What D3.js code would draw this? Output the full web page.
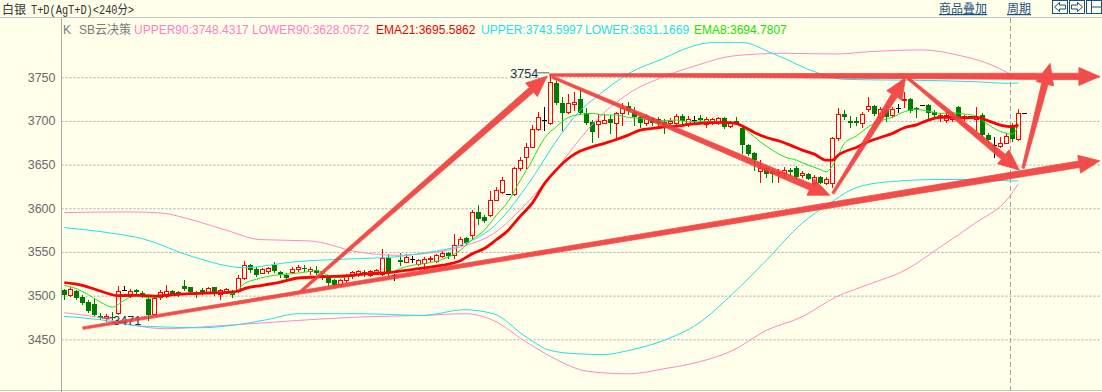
<!DOCTYPE html>
<html>
<head>
<meta charset="utf-8">
<script src="https://cdn.jsdelivr.net/npm/d3@7"></script>
<style>
  body { margin: 0; background: #ffffea; }
  svg { display: block; }
</style>
</head>
<body>
<script>
// candle data (240 min bars), index 0..159
const opens = [3506.4,3501,3504.9,3498.8,3492.7,3490.4,3476.2,3474.3,3476,3480.4,3506.5,3501,3506.4,3503,3495.7,3479.3,3498.4,3500,3505,3504,
  3511,3509.5,3504.1,3506,3503.4,3509.5,3502.2,3504.1,3504.9,3505.3,3520.2,3534.7,3530.9,3526.3,3527.8,3534.7,3527.1,3524,3527.1,3530.1,
  3532,3527.8,3529.8,3524,3520.6,3517.5,3513,3517.5,3522.1,3524,3527.1,3523.3,3525.2,3525.2,3543.5,3523.3,3541.2,3538.6,3541.6,3535.9,
  3537.8,3542,3539.7,3545.1,3549.3,3546.2,3558.5,3566.1,3569.2,3595.2,3590.2,3592.8,3610,3618.8,3616,3616,3645.6,3658.2,3670.4,3690.3,
  3701,3698,3743.8,3720.1,3710.6,3719.4,3724.7,3708.7,3699.1,3696,3698,3701.8,3697.2,3708.7,3717,3710.6,3704.8,3697.2,3703,3701.8,
  3699.1,3697.2,3698,3705.6,3696,3701.5,3703,3696,3699,3699,3703,3694.5,3700,3691.5,3672.4,3663.6,3643,3645.6,3643,3640,
  3639.9,3644,3646.7,3638,3639,3629,3636,3629,3628.4,3680,3708,3700,3699.5,3698,3713.2,3717,3704,3712.5,3706.8,3714.4,
  3723.5,3724.7,3715,3717.8,3717.8,3710.6,3705,3701,3702,3715.5,3703,3706,3701.8,3706.8,3683.8,3672,3671.2,3675,3695.3,3678.9];
const highs = [3508,3509.5,3506,3501,3494.6,3496.5,3479.7,3479,3481,3511,3510.5,3508,3508,3505,3498.4,3501,3506,3511.8,3506.8,3505.5,
  3518.3,3510.3,3505,3508.6,3510.3,3510.3,3508,3509,3506.4,3523.3,3539.7,3536.6,3532.8,3531.7,3533.2,3538.5,3528.6,3525.6,3533.2,3534.7,
  3534.7,3532.4,3533.6,3526,3521.5,3518.5,3519.5,3524.4,3528.2,3529,3529,3529,3531,3553.9,3548.1,3524.5,3548.9,3548.1,3545,3542.4,
  3544,3545.5,3548.1,3551,3550,3570.3,3567.2,3567.2,3597.8,3603.6,3592,3620,3624.5,3636,3616,3647.5,3659,3674.2,3695.3,3710.6,
  3715.5,3754,3746,3727.7,3730.5,3733.5,3736.2,3714.4,3701,3707.5,3707.5,3706.8,3710.6,3720.1,3722,3716.3,3706,3708,3705,3705,
  3702,3703,3708,3708,3706,3706,3707,3704,3703.5,3705,3705,3700,3705,3693.4,3674,3665,3655,3647.5,3644.4,3645,
  3647,3646.5,3648.2,3643,3640.5,3638,3637,3636,3682,3714.4,3713,3705.6,3705,3710.6,3727.8,3718.2,3716,3718,3716.2,3719,
  3733.5,3726,3716,3717.8,3719.4,3712.5,3709,3708.7,3708,3717,3707,3706,3715.5,3708.7,3685.7,3682,3682,3685.7,3697.2,3713.2];
const lows = [3496.5,3499.6,3496.5,3490.8,3481.2,3476.2,3473.6,3471,3471.5,3479,3506.5,3499,3502,3499,3472.4,3478,3496.5,3498.4,3500.3,3500,
  3507,3502.6,3499,3501.8,3502.6,3500.7,3496.5,3502.6,3498.8,3504.1,3518.7,3527.1,3522.5,3525.6,3526.3,3527.1,3521.7,3518.7,3526.3,3528.6,
  3527.8,3525.2,3524.4,3519,3511.8,3510.5,3511.8,3515.6,3520.6,3522,3522.1,3522,3524.4,3523.3,3523.3,3518,3534.8,3538,3538.2,3534.8,
  3531,3540,3538.6,3544,3543.5,3543.5,3557.7,3559.6,3565.3,3582.5,3584.5,3591,3609,3618,3616,3615,3644,3646.7,3669.7,3689.5,
  3689.5,3697,3719,3689.5,3709.5,3712.5,3707.5,3696,3676.2,3681.9,3697.2,3685.7,3678.1,3695,3707.5,3695.3,3693.4,3695.3,3695.3,3693.4,
  3685.7,3694,3697,3697,3694,3698,3698,3693,3697,3697,3692,3693,3696,3663.5,3660.9,3643.7,3630.3,3636,3630.3,3630,
  3636,3638.5,3633.7,3636,3633,3626.5,3628.4,3627.6,3624.6,3678,3701.8,3693.4,3695,3693,3711.7,3706.8,3702,3700,3705,3710.6,
  3716,3710.6,3704.8,3717.8,3701.8,3704.8,3700,3699,3700,3702,3701,3706,3689.5,3681.9,3676.2,3659,3670.4,3674.2,3677.3,3678.1];
const closes = [3500.3,3507.2,3497.3,3491.9,3482.7,3477.4,3474.3,3476.2,3474,3504.9,3506.5,3505,3504,3500.3,3478.2,3497.2,3504.1,3505,3502.2,3501.8,
  3508,3504.1,3501.5,3502.6,3508.7,3501.8,3506.8,3507.2,3501,3520.2,3534.7,3529.4,3524,3530.1,3531.7,3527.8,3523.3,3520.2,3530.9,3532.4,
  3530.1,3530.1,3526,3521,3514.5,3511.8,3517.5,3522.1,3526.7,3527.9,3523.3,3527.9,3529.8,3543.5,3526,3523.3,3538.6,3544.3,3541.6,3540.5,
  3542.4,3543.5,3546.2,3549.3,3545.1,3558.5,3565.3,3560.7,3595.9,3588.3,3585.6,3610,3620.7,3632.2,3616,3645.6,3655.1,3670.4,3690.3,3704.8,
  3701,3745,3720.1,3709.4,3720.5,3722,3708.7,3697.2,3686.9,3700.3,3701,3697.2,3708.7,3714.4,3711.7,3704.8,3698,3705.6,3697.2,3697.2,
  3695.3,3700.3,3705.6,3700.3,3701.8,3701.5,3701,3701.8,3702,3703,3693.4,3699,3698,3672.4,3662,3655.1,3646.7,3639,3639,3642,
  3644.4,3642,3636,3640,3634.1,3635.3,3629,3633.7,3680,3707.5,3704,3698,3698,3707.5,3717,3708,3714,3704,3713.6,3714.4,
  3725,3711.7,3712.5,3717.8,3708.7,3706.8,3706.8,3706.8,3706,3704,3706,3706,3704.8,3683.8,3678.1,3672,3675,3682.7,3678.9,3709.4];

// indicator readings as [bar index, value]
const ema21 = [[0,3514.8],[3,3511.8],[6,3505.3],[9,3500],[12,3500.3],[15,3499.5],[18,3501],[21,3502.2],[24,3503],[27,3503.7],[29,3505.3],[30,3508],
  [33,3511.8],[36,3515.6],[39,3520.2],[42,3521.3],[45,3522.1],[48,3523.3],[51,3525.2],[54,3526.3],[57,3529],[60,3531.7],[63,3534.8],[66,3540],
  [68,3548],[70,3554],[72,3564],[74,3575],[76,3591],[78,3606],[80,3628],[82,3644],[84,3657],[86,3665.5],[88,3670.4],[90,3674.3],[92,3678.8],
  [94,3683.8],[96,3689.5],[98,3691.5],[100,3693.4],[102,3694],[104,3696],[106,3697.2],[108,3698],[110,3698.4],[112,3697.2],[113,3694.2],
  [115,3686.9],[117,3681.1],[119,3677.3],[121,3672.3],[123,3666.6],[125,3662],[127,3655.1],[128,3655.1],[129,3660.9],[130,3664.7],[132,3669.7],
  [134,3676.2],[136,3681.1],[138,3685.7],[140,3692.2],[142,3695.6],[144,3701],[146,3704.1],[148,3704.1],[150,3703.7],[152,3704.1],[154,3700.2],
  [156,3695.3],[158,3693.4],[159,3695.6]];
const ema8 = [[0,3511.8],[2,3508],[4,3501.1],[6,3492.7],[8,3486.9],[10,3494.6],[12,3501.1],[14,3497.3],[16,3498.4],[18,3501.1],[20,3502.2],
  [23,3503],[26,3503.4],[28,3502.2],[29,3507.2],[30,3513.7],[32,3518.7],[35,3523.3],[38,3525.2],[41,3527.8],[42,3529],[44,3523.3],[46,3520.6],
  [48,3522.1],[50,3524.4],[52,3527.1],[54,3526],[56,3531],[58,3534.8],[60,3536.7],[62,3539.3],[64,3544.3],[66,3552],[68,3564.2],[70,3574.9],
  [72,3592],[74,3608],[76,3632],[78,3655.1],[79,3668.5],[80,3680],[82,3693.4],[84,3704.1],[86,3707.5],[88,3708.7],[90,3706.8],[92,3706.8],
  [94,3704.1],[96,3702.9],[98,3701],[100,3700.3],[102,3701],[104,3699.1],[106,3699.9],[108,3699.1],[110,3698],[112,3696.4],[113,3693.4],
  [114,3687.6],[116,3676.2],[118,3666.6],[120,3659],[122,3655.1],[124,3649.4],[126,3644.4],[127,3641.8],[128,3648.5],[129,3660.9],[130,3674.3],
  [132,3682.7],[134,3693.4],[136,3700.2],[138,3704.1],[140,3710.6],[142,3713.2],[144,3711.3],[146,3708.7],[148,3709.4],[150,3707.9],[152,3705.6],
  [153,3700.8],[154,3695.8],[156,3688],[158,3685],[159,3694.8]];
const upper = [[0,3577.9],[7.6,3571.8],[13,3565.3],[21.5,3544.3],[30,3532],[38,3538.5],[49,3542.4],[55,3544.3],[60,3548.9],[66,3557.7],
  [71.5,3578.7],[77,3624.6],[82.6,3683],[86,3712],[88.4,3726],[94.1,3754.5],[99.9,3771.7],[104,3784],[107.9,3789.7],[113,3789.7],[118,3777.5],
  [125.8,3754.5],[129.8,3747.7],[137.3,3746.9],[146,3746.1],[151.7,3745],[157.5,3743.1],[159,3743.6]];
const lower = [[0,3476.2],[6,3472.4],[11.5,3466],[17,3464],[22.6,3463.2],[28,3466],[33.7,3472.4],[39,3479.3],[49,3479.3],[60,3477.4],
  [66.5,3483.9],[71.5,3479.3],[77,3452.5],[81,3437.2],[85.5,3433.4],[90,3432.5],[94,3437.2],[99.9,3448.7],[105.6,3467.8],[111.4,3502.2],
  [117,3540.5],[122.9,3582.5],[127.5,3605.4],[131.6,3622.6],[137.3,3630.3],[146,3633],[154.6,3632.2],[159,3631.2]];
const upper90 = [[0,3595.1],[10.4,3595.9],[16,3594.7],[21.5,3586.3],[27,3574.9],[32.6,3564.2],[41,3562.6],[49,3550],[55,3546.2],[60,3548.1],
  [66,3555.7],[71.5,3571],[77,3605.4],[82.6,3650],[86,3680],[88.4,3699],[94.1,3731.6],[99.9,3750.7],[105.6,3764.1],[111.4,3774.4],[120,3777.5],
  [128.6,3776.7],[134.4,3779.4],[143,3781.3],[148.8,3775.6],[154.6,3764],[159,3748.4]];
const lower90 = [[0,3480.4],[6,3474.7],[11.5,3466],[17,3462.1],[22.6,3464],[39,3471.6],[49,3475.5],[60,3477.4],[67,3479.3],[71.5,3471.6],
  [77,3446.8],[82.6,3424.8],[86,3415.1],[88.4,3412.4],[94.1,3410.5],[99.9,3416.2],[105.6,3423.8],[111.4,3437.2],[117,3460.2],[122.9,3475.5],
  [128.6,3498.4],[134.4,3513.7],[140.1,3529],[146,3555.7],[151.7,3582.5],[157.5,3613.1],[159,3628.1]];

// hand drawn arrows, [bar index, price] pairs
const arrowStarts = [[3.1,3462.8],[39.3,3504.1],[80.9,3752.6],[81.3,3750.3],[128.1,3617],[140.5,3749.5],[159.8,3646]];
const arrowEnds = [[172.6,3654.4],[80.5,3751.5],[172.6,3750.9],[127.6,3615],[140.2,3749.5],[159.2,3643.7],[164.3,3766]];

const yTicks = [3450, 3500, 3550, 3600, 3650, 3700, 3750];
const legendTexts = ['UPPER90:3748.4317', 'LOWER90:3628.0572', 'EMA21:3695.5862', 'UPPER:3743.5997', 'LOWER:3631.1669', 'EMA8:3694.7807'];
const legendColors = ['#ff80c8', '#ff80c8', '#ee0000', '#22e0ee', '#22e0ee', '#22e000'];
const legendX = [134, 252, 376, 481, 585, 694];

const width = 1102;
const height = 392;
const bg = '#ffffea';

const svg = d3.select('body').append('svg')
  .attr('width', width)
  .attr('height', height)
  .style('background', bg);

const x = d3.scaleLinear().domain([0, 159]).range([64.3, 1018.3]);
const y = d3.scaleLinear().domain([3450, 3750]).range([339.3, 77.3]);

// frame lines
svg.append('line').attr('x1', 0).attr('x2', width).attr('y1', 17.5).attr('y2', 17.5).attr('stroke', '#c4c4c4');
svg.append('line').attr('x1', 0).attr('x2', width).attr('y1', 390.5).attr('y2', 390.5).attr('stroke', '#c4c4c4');
svg.append('line').attr('x1', 61.5).attr('x2', 61.5).attr('y1', 18).attr('y2', height).attr('stroke', '#a8a8a8');

// y axis with dotted grid
const yAxis = d3.axisLeft(y)
  .tickValues(yTicks)
  .tickSize(-(width - 62))
  .tickPadding(6)
  .tickFormat(d3.format('d'));

svg.append('g')
  .attr('transform', 'translate(61.5,0)')
  .call(yAxis)
  .call(g => g.select('.domain').remove())
  .call(g => g.selectAll('line').attr('stroke', '#a9a9a9').attr('stroke-dasharray', '2,2'))
  .call(g => g.selectAll('text')
    .attr('fill', '#6a6a6a')
    .style('font-family', '"Liberation Sans", Arial, sans-serif')
    .style('font-size', '12.5px'));

// current bar marker
svg.append('line')
  .attr('x1', 1010.5).attr('x2', 1010.5).attr('y1', 18).attr('y2', height)
  .attr('stroke', '#a0a0a0').attr('stroke-dasharray', '5,3');

// candles
const candles = svg.append('g');
d3.range(opens.length).forEach(i => {
  const cx = Math.round(x(i));
  const o = opens[i], c = closes[i];
  const color = o === c ? '#000000' : (c > o ? '#ff0000' : '#007c00');
  candles.append('line')
    .attr('x1', cx + 0.5).attr('x2', cx + 0.5)
    .attr('y1', Math.round(y(highs[i]))).attr('y2', Math.round(y(lows[i])) + 1)
    .attr('stroke', color);
  const top = Math.round(y(Math.max(o, c)));
  const bot = Math.round(y(Math.min(o, c)));
  if (o === c) {
    candles.append('line')
      .attr('x1', cx - 2).attr('x2', cx + 3)
      .attr('y1', top + 0.5).attr('y2', top + 0.5)
      .attr('stroke', color);
  } else if (c > o) {
    candles.append('rect')
      .attr('x', cx - 1.5).attr('y', top + 0.5)
      .attr('width', 4).attr('height', Math.max(bot - top, 1))
      .attr('fill', bg).attr('stroke', color);
  } else {
    candles.append('rect')
      .attr('x', cx - 2).attr('y', top)
      .attr('width', 5).attr('height', Math.max(bot - top, 1))
      .attr('fill', color);
  }
});

// last price tick
svg.append('line')
  .attr('x1', Math.round(x(159)) + 4).attr('x2', Math.round(x(159)) + 9)
  .attr('y1', Math.round(y(closes[159])) + 0.5).attr('y2', Math.round(y(closes[159])) + 0.5)
  .attr('stroke', '#000');

// indicator lines
const line = d3.line()
  .x(d => x(d[0]))
  .y(d => y(d[1]))
  .curve(d3.curveMonotoneX);

const series = [
  [upper90, '#ff88c8', 1],
  [lower90, '#ff88c8', 1],
  [upper, '#22e0ee', 1],
  [lower, '#22e0ee', 1],
  [ema8, '#22e022', 1],
  [ema21, '#ff0000', 2.8]
];
series.forEach(([data, color, w]) => {
  svg.append('path')
    .datum(data)
    .attr('d', line)
    .attr('fill', 'none')
    .attr('stroke', color)
    .attr('stroke-width', w);
});

// high / low labels
const hiIdx = d3.maxIndex(highs);
const loIdx = d3.minIndex(lows);
svg.append('text')
  .attr('x', x(hiIdx) - 40).attr('y', y(highs[hiIdx]) + 4)
  .attr('fill', '#17304f')
  .style('font-family', '"Liberation Sans", Arial, sans-serif')
  .style('font-size', '12.5px')
  .text(String(Math.round(highs[hiIdx])));
svg.append('line')
  .attr('x1', x(hiIdx) - 13).attr('x2', x(hiIdx) - 1)
  .attr('y1', y(highs[hiIdx]) - 1).attr('y2', y(highs[hiIdx]) - 1)
  .attr('stroke', '#606060');
svg.append('text')
  .attr('x', x(loIdx) + 7).attr('y', y(lows[loIdx]) + 4)
  .attr('fill', '#17304f')
  .style('font-family', '"Liberation Sans", Arial, sans-serif')
  .style('font-size', '12.5px')
  .text(String(Math.round(lows[loIdx])));
svg.append('line')
  .attr('x1', x(loIdx) - 4).attr('x2', x(loIdx) + 6)
  .attr('y1', y(lows[loIdx]) - 3).attr('y2', y(lows[loIdx]) - 3)
  .attr('stroke', '#606060');

// red hand drawn arrows
function arrowShape(p0, p1, w0, w1, hl, hw) {
  const dx = p1[0] - p0[0], dy = p1[1] - p0[1];
  const len = Math.hypot(dx, dy);
  const ux = dx / len, uy = dy / len, nx = -uy, ny = ux;
  const bx = p1[0] - ux * hl, by = p1[1] - uy * hl;
  return [
    [p0[0] + nx * w0 / 2, p0[1] + ny * w0 / 2],
    [bx + nx * w1 / 2, by + ny * w1 / 2],
    [bx + nx * hw, by + ny * hw],
    p1,
    [bx - nx * hw, by - ny * hw],
    [bx - nx * w1 / 2, by - ny * w1 / 2],
    [p0[0] - nx * w0 / 2, p0[1] - ny * w0 / 2]
  ];
}

const arrows = svg.append('g').attr('opacity', 0.9);
arrowStarts.forEach((s, k) => {
  const p0 = [x(s[0]), y(s[1])];
  const p1 = [x(arrowEnds[k][0]), y(arrowEnds[k][1])];
  arrows.append('path')
    .attr('d', d3.line()(arrowShape(p0, p1, 2.5, 6.5, 21, 9)) + 'Z')
    .attr('fill', '#f23a3a')
    .attr('stroke', '#f23a3a')
    .attr('stroke-width', 0.8)
    .attr('stroke-linejoin', 'round');
});

// header
svg.append('text')
  .attr('x', 2).attr('y', 14)
  .attr('fill', '#333')
  .style('font-family', '"Noto Sans CJK SC", sans-serif')
  .style('font-size', '12px')
  .text('白银');
svg.append('text')
  .attr('x', 31).attr('y', 13.5)
  .attr('fill', '#333')
  .attr('textLength', 103)
  .attr('lengthAdjust', 'spacingAndGlyphs')
  .style('font-family', '"Liberation Mono", "Noto Sans CJK SC", monospace')
  .style('font-size', '12.5px')
  .text('T+D(AgT+D)<240分>');

const links = [['商品叠加', 939], ['周期', 1007]];
links.forEach(([t, lx]) => {
  svg.append('text')
    .attr('x', lx).attr('y', 13)
    .attr('fill', '#1c4f82')
    .style('font-family', '"Noto Sans CJK SC", sans-serif')
    .style('font-size', '12px')
    .style('text-decoration', 'underline')
    .text(t);
});

// nav buttons
const btnX = [1052.5, 1069.5, 1086.5];
btnX.forEach((bx, k) => {
  const g = svg.append('g').attr('stroke', '#1c4f82').attr('fill', 'none');
  g.append('rect').attr('x', bx).attr('y', 0.5).attr('width', 15).attr('height', 13);
  if (k === 0) {
    g.append('path').attr('d', `M${bx + 2},7 L${bx + 7},2.5 L${bx + 7},5 L${bx + 13},5 L${bx + 13},9 L${bx + 7},9 L${bx + 7},11.5 Z`);
  } else if (k === 1) {
    g.append('path').attr('d', `M${bx + 13},7 L${bx + 8},2.5 L${bx + 8},5 L${bx + 2},5 L${bx + 2},9 L${bx + 8},9 L${bx + 8},11.5 Z`);
  } else {
    g.append('path').attr('d', `M${bx + 5},0.5 L${bx + 5},13.5 M${bx + 5},7 L${bx + 15},7`);
  }
});

// legend
svg.append('text')
  .attr('x', 63).attr('y', 34)
  .attr('fill', '#7a7a7a')
  .style('font-family', '"Liberation Sans", Arial, sans-serif')
  .style('font-size', '12px')
  .text('K');
svg.append('text')
  .attr('x', 79).attr('y', 34)
  .attr('fill', '#7a7a7a')
  .style('font-family', '"Liberation Sans", "Noto Sans CJK SC", sans-serif')
  .style('font-size', '12px')
  .text('SB云决策');
legendTexts.forEach((t, k) => {
  svg.append('text')
    .attr('x', legendX[k]).attr('y', 34)
    .attr('fill', legendColors[k])
    .style('font-family', '"Liberation Sans", Arial, sans-serif')
    .style('font-size', '12px')
    .text(t);
});
</script>
</body>
</html>
